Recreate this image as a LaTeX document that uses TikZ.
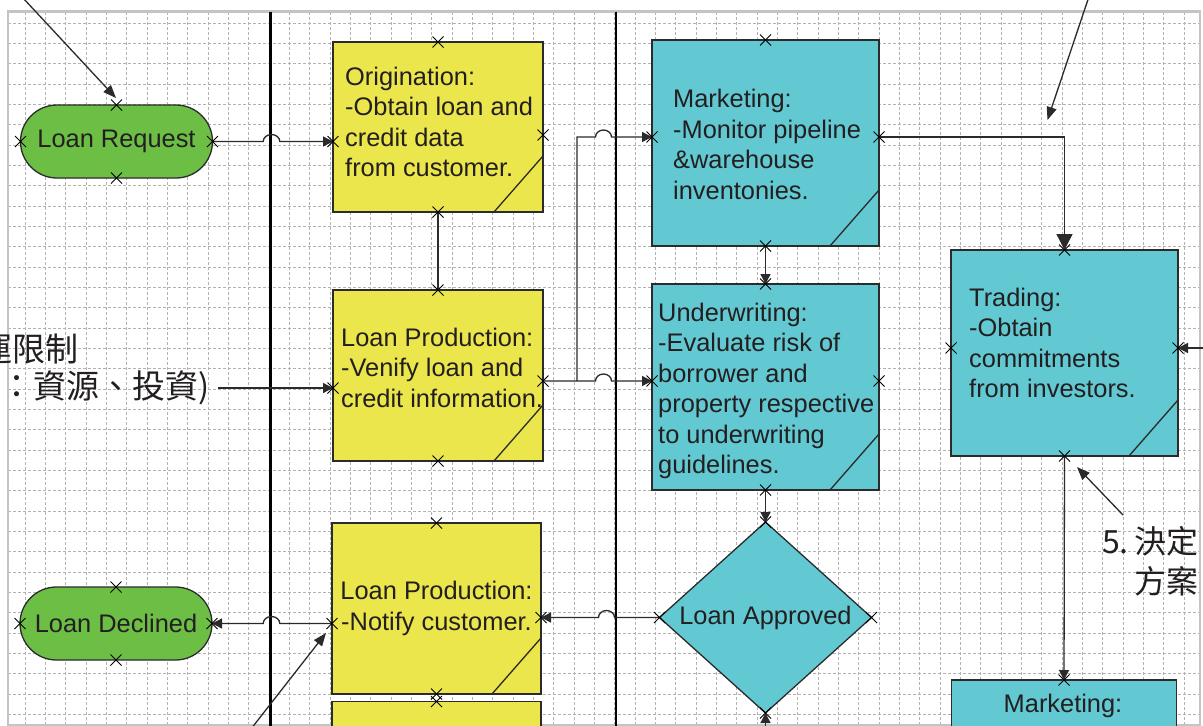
\documentclass[tikz,border=0pt]{standalone}
\usepackage{fontspec}
\setmainfont{Liberation Sans}
\newfontfamily\cjk{Noto Sans CJK TC}
\usetikzlibrary{shapes.geometric,shapes.misc,arrows.meta,calc}
\definecolor{ylw}{HTML}{EBE64C}
\definecolor{cyn}{HTML}{62C8D2}
\definecolor{grn}{HTML}{6CBE45}
\definecolor{txt}{HTML}{231F20}
\definecolor{edgec}{HTML}{2B2B2B}
\definecolor{gridc}{HTML}{B2B2B2}
\definecolor{framec}{HTML}{C4C4C4}
\newcommand\bodyfont{\fontsize{25.4}{30.5}\selectfont}
\newcommand\xmk[1]{\draw[xmark] ($(#1)+(-5.5,-5.5)$) -- ($(#1)+(5.5,5.5)$) ($(#1)+(-5.5,5.5)$) -- ($(#1)+(5.5,-5.5)$);}
\newcommand\fold[1]{\draw[conn] ($(#1.south east)+(-49,0)$) -- ($(#1.south east)+(0,-56)$);}
\begin{document}
\begin{tikzpicture}[x=1pt,y=-1pt,
  ybox/.style={rectangle,draw=edgec,line width=1.3pt,fill=ylw,inner sep=0pt,outer sep=0pt},
  cbox/.style={rectangle,draw=edgec,line width=1.3pt,fill=cyn,inner sep=0pt,outer sep=0pt},
  term/.style={rounded rectangle,draw=edgec,line width=1.3pt,fill=grn,inner sep=0pt,outer sep=0pt,minimum width=192pt,minimum height=73pt,font=\bodyfont,text=txt},
  dec/.style={diamond,aspect=1.11,draw=edgec,line width=1.3pt,fill=cyn,inner sep=0pt,outer sep=0pt,minimum width=212pt,minimum height=191pt,font=\bodyfont,text=txt},
  lbl/.style={inner sep=0pt,align=left,anchor=west,font=\bodyfont,text=txt},
  cjkl/.style={inner sep=0pt,anchor=east,text=txt},
  conn/.style={draw=edgec,line width=1.3pt},
  arr/.style={conn,-{Triangle[length=10pt,width=10pt]}},
  bigarr/.style={conn,-{Triangle[length=16pt,width=16pt]}},
  ann/.style={conn,-{Triangle[length=13pt,width=10pt]}},
  xmark/.style={draw=black,line width=1pt},
  gridl/.style={draw=gridc,line width=0.6pt,dash pattern=on 3pt off 2pt}
]
\useasboundingbox (0,0) rectangle (1203,726);
\clip (0,0) rectangle (1203,726);
\fill[white] (0,0) rectangle (1203,726);
% grid
\foreach \k in {0,...,57} \draw[gridl] ({25+20.33*\k},12) -- ({25+20.33*\k},725);
\foreach \k in {0,...,34} \draw[gridl] (8,{23+20.33*\k}) -- (1200,{23+20.33*\k});
\draw[framec,line width=2.5pt] (8,11.5) rectangle (1200,725.5);
% lanes
\coordinate (L1t) at (270,11.5); \coordinate (L1b) at (270,726);
\coordinate (L2t) at (616,11.5); \coordinate (L2b) at (616,726);
\draw[black,line width=3pt] (L1t) -- (L1b);
\draw[black,line width=1.1pt] (L2t) -- (L2b);
% jump centres
\coordinate (J1) at (271.5,0);
\coordinate (J2) at (603.5,0);
\coordinate (J3) at (606.5,0);

% nodes
\node[term] (lr) at (116.5,141.5) {Loan Request};
\node[term] (ld) at (116,623.5) {Loan Declined};
\node[ybox,minimum width=210pt,minimum height=170pt] (or) at (438,127) {};
\node[ybox,minimum width=210pt,minimum height=171pt] (lp1) at (438,375.5) {};
\node[ybox,minimum width=209pt,minimum height=171pt,align=center,font=\bodyfont,text=txt] (lp2) at (436.5,608.5) {Loan Production:\\-Notify customer.};
\node[ybox,minimum width=209pt,minimum height=77pt] (lp3) at (436.5,740) {};
\node[cbox,minimum width=227pt,minimum height=206pt] (mk) at (765.5,143) {};
\node[cbox,minimum width=227pt,minimum height=206pt] (uw) at (765.5,387) {};
\node[dec] (la) at (765.5,617.5) {Loan Approved};
\node[cbox,minimum width=227pt,minimum height=206pt] (tr) at (1064.5,353) {};
\node[cbox,minimum width=225pt,minimum height=80pt] (mk2) at (1064,720) {};

\fold{or} \fold{lp1} \fold{lp2} \fold{mk} \fold{uw} \fold{tr}

% texts
\node[lbl] (ort) at (345,122) {Origination:\\-Obtain loan and\\credit data\\from customer.};
\node[lbl] (lp1t) at (341,367.5) {Loan Production:\\-Venify loan and\\credit information.};
\node[lbl] (mkt) at (673,144.5) {Marketing:\\-Monitor pipeline\\\&warehouse\\inventonies.};
\node[lbl] (uwt) at (658,391) {Underwriting:\\-Evaluate risk of\\borrower and\\property respective\\to underwriting\\guidelines.};
\node[lbl] (trt) at (969,343) {Trading:\\-Obtain\\commitments\\from investors.};
\node[lbl,anchor=center] (mk2t) at (1063,706) {Marketing:};
\node[cjkl,font=\cjk\fontsize{33}{36}\selectfont] (t4a) at (79,349) {營運限制};
\node[cjkl,font=\cjk\fontsize{33}{36}\selectfont] (t4b) at (210,388) {(例如：資源、投資)};
\node[cjkl,font=\cjk\fontsize{32}{36}\selectfont] (t5a) at (1199,541.7) {5.\hspace{6pt}決定};
\node[cjkl,font=\cjk\fontsize{32}{36}\selectfont] (t5b) at (1199,581.7) {方案};

% ports
\coordinate (orW) at (or.west |- lr.east);
\coordinate (orE) at ($(or.east)+(0,8)$);
\coordinate (lp1W) at ($(lp1.west)+(0,12.5)$);
\coordinate (lp1E) at ($(lp1.east)+(0,5.5)$);
\coordinate (lp2W) at (lp2.west |- ld.east);
\coordinate (lp2E) at (lp2.east |- la.west);
\coordinate (mkW) at ($(mk.west)+(0,-6)$);
\coordinate (mkE) at ($(mk.east)+(0,-6)$);
\coordinate (uwW) at (uw.west |- lp1E);
\coordinate (uwE) at ($(uw.east)+(0,-6)$);
\coordinate (trW) at ($(tr.west)+(0,-5)$);
\coordinate (trE) at ($(tr.east)+(0,-5)$);
\coordinate (br) at ($(lp1E)+(34,0)$);

% connectors
\draw[arr] (lr.east) -- ($(J1 |- lr.east)+(-8.3,0)$) arc[start angle=180,end angle=0,x radius=8.3pt,y radius=7pt] -- (orW);
\draw[conn] (or.south) -- (lp1.north);
\draw[arr] (lp1E) -- ($(J2 |- lp1E)+(-8,0)$) arc[start angle=180,end angle=0,x radius=8pt,y radius=7pt] -- (uwW);
\draw[arr] (br) -- (br |- mkW) -- ($(J2 |- mkW)+(-8,0)$) arc[start angle=180,end angle=0,x radius=8pt,y radius=7pt] -- (mkW);
\draw[arr] (mk.south) -- (uw.north);
\draw[arr] (uw.south) -- (la.north);
\draw[arr] (la.west) -- ($(J3 |- la.west)+(8,0)$) arc[start angle=0,end angle=180,x radius=8pt,y radius=7pt] -- (lp2E);
\draw[arr] (lp2W) -- ($(J1 |- lp2W)+(8.3,0)$) arc[start angle=0,end angle=180,x radius=8.3pt,y radius=7pt] -- (ld.east);
\draw[bigarr] (mkE) -| (tr.north);
\draw[arr] (tr.south) -- (mk2.north);
\draw[arr] ($(t4b.east)+(8,0)$) -- (lp1W);

% annotation arrows
\coordinate (a1s) at (23,-2); \coordinate (a1e) at (116,98);
\coordinate (a2s) at (1088.5,-2); \coordinate (a2e) at (1047.5,120);
\coordinate (a3s) at (1123,515); \coordinate (a3e) at (1077,467);
\coordinate (a4s) at ($(trE)+(40,0)$);
\coordinate (a5s) at (248.6,732); \coordinate (a5e) at (326,633);
\coordinate (a6s) at ($(la.south)+(0,30)$);
\draw[ann] (a1s) -- (a1e);
\draw[ann] (a2s) -- (a2e);
\draw[ann] (a3s) -- (a3e);
\draw[arr] (a4s) -- (trE);
\draw[ann] (a5s) -- (a5e);
\draw[arr] (a6s) -- (la.south);

% connection crosses
\xmk{lr.north} \xmk{lr.south} \xmk{lr.west} \xmk{lr.east}
\xmk{ld.north} \xmk{ld.south} \xmk{ld.west} \xmk{ld.east}
\xmk{or.north} \xmk{or.south} \xmk{orW} \xmk{orE}
\xmk{lp1.north} \xmk{lp1.south} \xmk{lp1W} \xmk{lp1E}
\xmk{lp2.north} \xmk{lp2.south} \xmk{lp2W} \xmk{lp2E}
\xmk{lp3.north}
\xmk{mk.north} \xmk{mk.south} \xmk{mkW} \xmk{mkE}
\xmk{uw.north} \xmk{uw.south} \xmk{uwW} \xmk{uwE}
\xmk{la.north} \xmk{la.south} \xmk{la.west} \xmk{la.east}
\xmk{tr.north} \xmk{tr.south} \xmk{trW} \xmk{trE}
\xmk{mk2.north}
\end{tikzpicture}
\end{document}
